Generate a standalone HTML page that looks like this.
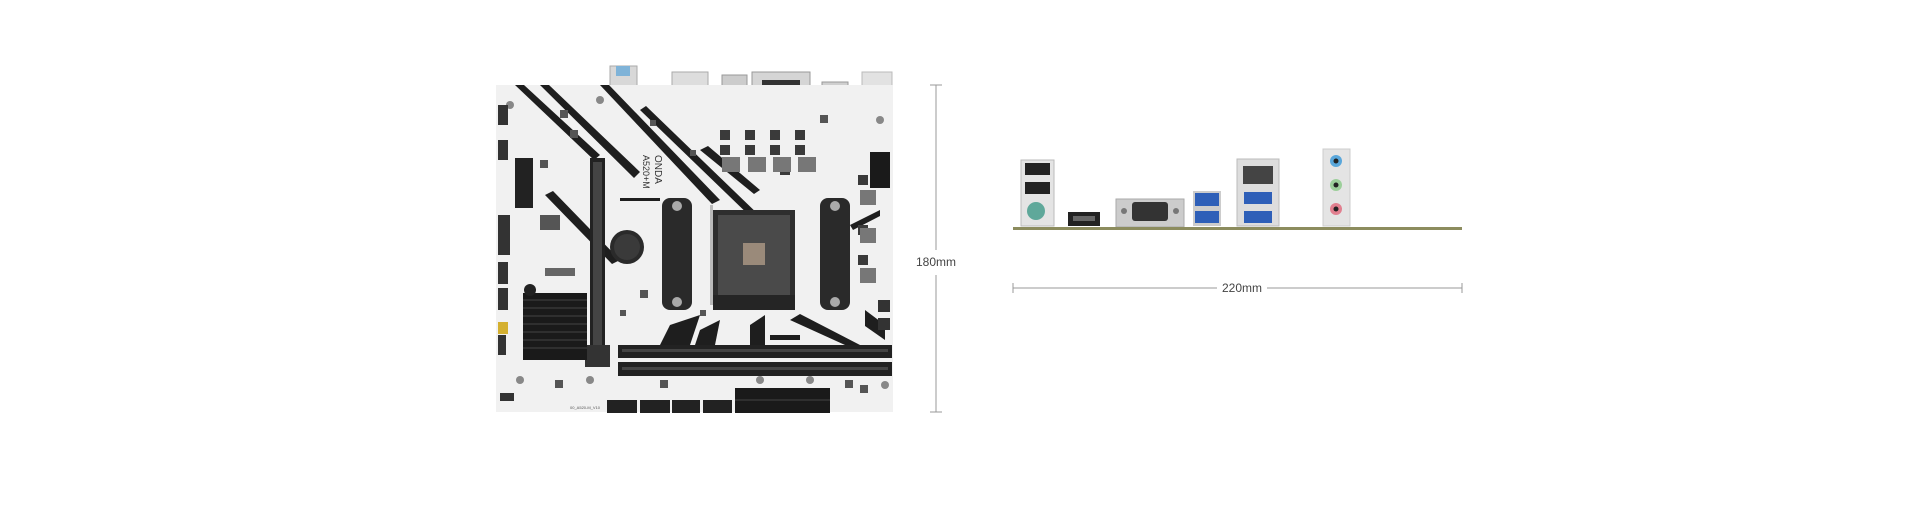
<!DOCTYPE html>
<html><head><meta charset="utf-8"><style>
html,body{margin:0;padding:0;background:#fff;}
body{width:1920px;height:528px;overflow:hidden;position:relative;font-family:"Liberation Sans",sans-serif;}
svg{position:absolute;left:0;top:0;}
</style></head><body>
<svg width="1920" height="528" viewBox="0 0 1920 528" xmlns="http://www.w3.org/2000/svg">
<!-- top IO on board -->
<rect x="610" y="66" width="27" height="60" fill="#d8d8d8" stroke="#aaa"/>
<rect x="616" y="66" width="14" height="10" fill="#7fb3d8"/>
<rect x="672" y="72" width="36" height="58" fill="#ddd" stroke="#aaa"/>
<rect x="722" y="75" width="25" height="35" fill="#ccc" stroke="#999"/>
<rect x="752" y="72" width="58" height="28" fill="#d5d5d5" stroke="#999"/>
<rect x="762" y="80" width="38" height="14" fill="#333"/>
<rect x="822" y="82" width="26" height="22" fill="#cfcfcf" stroke="#999"/>
<rect x="862" y="72" width="30" height="40" fill="#e2e2e2" stroke="#bbb"/>
<!-- board -->
<rect x="496" y="85" width="397" height="327" fill="#f1f1f1"/>
<g fill="#1e1e1e">
<polygon points="515,85 524,85 600,155 594,160"/>
<polygon points="540,85 549,85 640,172 634,178"/>
<polygon points="600,85 609,85 720,200 712,204"/>
<polygon points="640,110 646,106 790,245 784,249"/>
<polygon points="700,150 708,146 760,190 754,194"/>
<polygon points="545,195 553,191 620,260 612,264"/>
<polygon points="620,198 660,198 660,201 620,201"/>
<polygon points="670,325 700,315 690,345 660,345"/>
<polygon points="700,330 720,320 715,345 695,345"/>
<polygon points="750,325 765,315 765,345 750,345"/>
<polygon points="790,320 800,314 860,345 845,345"/>
<polygon points="850,225 880,210 880,216 853,230"/>
<polygon points="865,310 885,325 885,340 865,326"/>
<rect x="770" y="335" width="30" height="5"/>
</g>
<!-- small components -->
<g fill="#555">
<rect x="560" y="110" width="8" height="8"/><rect x="570" y="130" width="8" height="8"/><rect x="540" y="160" width="8" height="8"/>
<rect x="650" y="120" width="6" height="6"/><rect x="690" y="150" width="6" height="6"/><rect x="640" y="290" width="8" height="8"/>
<rect x="620" y="310" width="6" height="6"/><rect x="670" y="300" width="8" height="8"/><rect x="660" y="380" width="8" height="8"/>
<rect x="845" y="380" width="8" height="8"/><rect x="860" y="385" width="8" height="8"/><rect x="555" y="380" width="8" height="8"/>
<rect x="540" y="215" width="20" height="15"/><rect x="820" y="115" width="8" height="8"/><rect x="700" y="310" width="6" height="6"/>
</g>
<g fill="#888"><circle cx="510" cy="105" r="4"/><circle cx="600" cy="100" r="4"/><circle cx="520" cy="380" r="4"/><circle cx="590" cy="380" r="4"/><circle cx="880" cy="120" r="4"/><circle cx="885" cy="385" r="4"/><circle cx="760" cy="380" r="4"/><circle cx="810" cy="380" r="4"/></g>
<!-- PCIe slots -->
<rect x="590" y="158" width="15" height="209" fill="#222"/>
<rect x="593" y="162" width="9" height="200" fill="#444"/>
<rect x="515" y="158" width="18" height="50" fill="#222"/>
<rect x="585" y="345" width="25" height="22" fill="#333"/>
<!-- heatsink -->
<rect x="523" y="293" width="64" height="67" fill="#1a1a1a"/>
<g stroke="#444" stroke-width="1">
<line x1="523" y1="300" x2="587" y2="300"/><line x1="523" y1="308" x2="587" y2="308"/><line x1="523" y1="316" x2="587" y2="316"/><line x1="523" y1="324" x2="587" y2="324"/><line x1="523" y1="332" x2="587" y2="332"/><line x1="523" y1="340" x2="587" y2="340"/><line x1="523" y1="348" x2="587" y2="348"/>
</g>
<circle cx="530" cy="290" r="6" fill="#222"/>
<!-- battery -->
<circle cx="627" cy="247" r="17" fill="#2a2a2a"/>
<circle cx="627" cy="247" r="13" fill="#3a3a3a"/>
<rect x="545" y="268" width="30" height="8" fill="#666"/>
<!-- left fan headers -->
<g fill="#333">
<rect x="498" y="105" width="10" height="20"/><rect x="498" y="140" width="10" height="20"/>
<rect x="498" y="215" width="12" height="40"/><rect x="498" y="262" width="10" height="22"/>
<rect x="498" y="288" width="10" height="22"/><rect x="498" y="335" width="8" height="20"/>
<rect x="500" y="393" width="14" height="8"/>
</g>
<rect x="498" y="322" width="10" height="12" fill="#d4b030"/>
<!-- CPU socket brackets -->
<rect x="662" y="198" width="30" height="112" rx="8" fill="#2a2a2a"/>
<rect x="820" y="198" width="30" height="112" rx="8" fill="#2a2a2a"/>
<circle cx="677" cy="206" r="5" fill="#aaa"/><circle cx="677" cy="302" r="5" fill="#aaa"/>
<circle cx="835" cy="206" r="5" fill="#aaa"/><circle cx="835" cy="302" r="5" fill="#aaa"/>
<!-- socket -->
<rect x="713" y="210" width="82" height="100" fill="#2e2e2e"/>
<rect x="718" y="215" width="72" height="80" fill="#4a4a4a"/>
<rect x="743" y="243" width="22" height="22" fill="#9a8a7a"/>
<rect x="713" y="295" width="82" height="15" fill="#252525"/>
<rect x="710" y="205" width="3" height="100" fill="#bbb"/>
<!-- VRM -->
<g fill="#3a3a3a">
<rect x="720" y="130" width="10" height="10"/><rect x="745" y="130" width="10" height="10"/><rect x="770" y="130" width="10" height="10"/><rect x="795" y="130" width="10" height="10"/>
<rect x="720" y="145" width="10" height="10"/><rect x="745" y="145" width="10" height="10"/><rect x="770" y="145" width="10" height="10"/><rect x="795" y="145" width="10" height="10"/>
<rect x="858" y="175" width="10" height="10"/><rect x="858" y="225" width="10" height="10"/><rect x="858" y="255" width="10" height="10"/>
<rect x="780" y="165" width="10" height="10"/>
</g>
<g fill="#777">
<rect x="722" y="157" width="18" height="15"/><rect x="748" y="157" width="18" height="15"/><rect x="773" y="157" width="18" height="15"/><rect x="798" y="157" width="18" height="15"/>
<rect x="860" y="190" width="16" height="15"/><rect x="860" y="228" width="16" height="15"/><rect x="860" y="268" width="16" height="15"/>
</g>
<rect x="870" y="152" width="20" height="36" fill="#1a1a1a"/>
<g fill="#333"><rect x="878" y="300" width="12" height="12"/><rect x="878" y="318" width="12" height="12"/></g>
<!-- DIMM -->
<rect x="618" y="345" width="274" height="13" fill="#222"/>
<rect x="618" y="362" width="274" height="14" fill="#222"/>
<rect x="622" y="349" width="266" height="3" fill="#444"/>
<rect x="622" y="367" width="266" height="3" fill="#444"/>
<!-- bottom connectors -->
<rect x="735" y="388" width="95" height="25" fill="#1a1a1a"/>
<g stroke="#444"><line x1="735" y1="400" x2="830" y2="400"/></g>
<g fill="#222"><rect x="607" y="400" width="30" height="13"/><rect x="640" y="400" width="30" height="13"/><rect x="672" y="400" width="28" height="13"/><rect x="703" y="400" width="29" height="13"/></g>
<text x="570" y="409" font-size="4" fill="#555">00_A520-M_V10</text>
<!-- logo text -->
<text x="655" y="155" font-size="10" fill="#333" transform="rotate(90 655 155)">ONDA</text>
<text x="643" y="155" font-size="9" fill="#333" transform="rotate(90 643 155)">A520+M</text>

<!-- vertical dimension -->
<g stroke="#999" stroke-width="1">
<line x1="936" y1="85" x2="936" y2="250"/>
<line x1="936" y1="275" x2="936" y2="412"/>
<line x1="930" y1="85" x2="942" y2="85"/>
<line x1="930" y1="412" x2="942" y2="412"/>
</g>
<text x="936" y="266" font-size="12" fill="#444" text-anchor="middle">180mm</text>

<!-- rear IO view -->
<rect x="1021" y="160" width="33" height="66" fill="#e4e4e4" stroke="#bbb"/>
<rect x="1025" y="163" width="25" height="12" fill="#222"/>
<rect x="1025" y="182" width="25" height="12" fill="#222"/>
<circle cx="1036" cy="211" r="9" fill="#5fa89a"/>
<rect x="1068" y="212" width="32" height="14" fill="#222"/>
<rect x="1073" y="216" width="22" height="5" fill="#666"/>
<rect x="1116" y="199" width="68" height="28" fill="#ccc" stroke="#aaa"/>
<rect x="1132" y="202" width="36" height="19" rx="3" fill="#333"/>
<circle cx="1124" cy="211" r="3" fill="#777"/><circle cx="1176" cy="211" r="3" fill="#777"/>
<rect x="1193" y="191" width="28" height="35" fill="#ccc"/>
<rect x="1195" y="193" width="24" height="13" fill="#2e5fb8"/>
<rect x="1195" y="211" width="24" height="12" fill="#2e5fb8"/>
<rect x="1237" y="159" width="42" height="67" fill="#ddd" stroke="#bbb"/>
<rect x="1243" y="166" width="30" height="18" fill="#444"/>
<rect x="1244" y="192" width="28" height="12" fill="#2e5fb8"/>
<rect x="1244" y="211" width="28" height="12" fill="#2e5fb8"/>
<rect x="1323" y="149" width="27" height="77" fill="#e4e4e4" stroke="#ccc"/>
<circle cx="1336" cy="161" r="6" fill="#59a7db"/><circle cx="1336" cy="161" r="2.5" fill="#222"/>
<circle cx="1336" cy="185" r="6" fill="#9ccf9a"/><circle cx="1336" cy="185" r="2.5" fill="#222"/>
<circle cx="1336" cy="209" r="6" fill="#e17f8f"/><circle cx="1336" cy="209" r="2.5" fill="#222"/>
<rect x="1013" y="227" width="449" height="3" fill="#8c8c5e"/>

<!-- horizontal dimension -->
<g stroke="#999" stroke-width="1">
<line x1="1013" y1="288" x2="1217" y2="288"/>
<line x1="1267" y1="288" x2="1462" y2="288"/>
<line x1="1013" y1="283" x2="1013" y2="293"/>
<line x1="1462" y1="283" x2="1462" y2="293"/>
</g>
<text x="1242" y="292" font-size="12" fill="#444" text-anchor="middle">220mm</text>
</svg>
</body></html>
